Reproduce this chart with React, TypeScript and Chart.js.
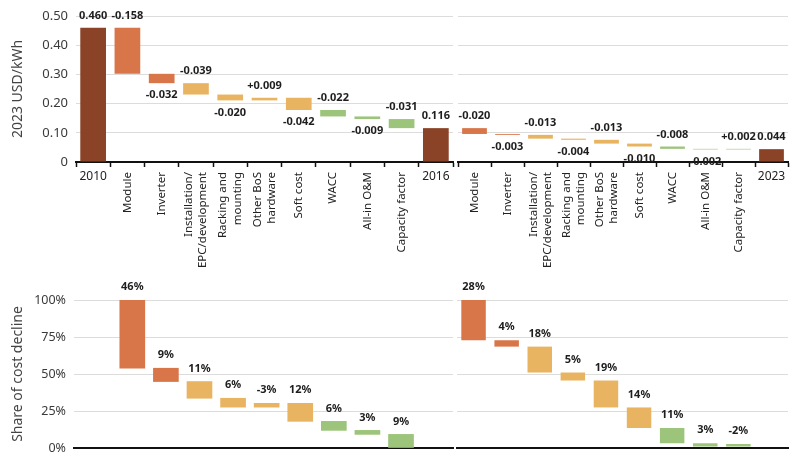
import React, { useEffect, useRef } from 'react';
import { Chart, registerables } from 'chart.js';

Chart.register(...registerables);

// ---------------- data ----------------
const drivers = [
  'Module',
  'Inverter',
  'Installation/\nEPC/development',
  'Racking and\nmounting',
  'Other BoS\nhardware',
  'Soft cost',
  'WACC',
  'All-in O&M',
  'Capacity factor',
];
const startYear = '2010';
const midYear = '2016';
const endYear = '2023';

const lcoe2010 = 0.46;
const lcoe2016 = 0.116;
const lcoe2023 = 0.044;
const change2010to2016 = [-0.158, -0.032, -0.039, -0.02, 0.009, -0.042, -0.022, -0.009, -0.031];
const change2016to2023 = [-0.02, -0.003, -0.013, -0.004, -0.013, -0.01, -0.008, -0.002, 0.002];

const usdTicks = [0, 0.1, 0.2, 0.3, 0.4, 0.5];
const usdTickLabels = ['0', '0.10', '0.20', '0.30', '0.40', '0.50'];
const shareTicks = [0, 25, 50, 75, 100];
const shareTickLabels = ['0%', '25%', '50%', '75%', '100%'];

// share of cost decline: [from, to] in %
const shareBars2010to2016: [number, number][] = [
  [100, 53.9], [53.9, 44.9], [44.9, 33.6], [33.6, 27.6], [27.6, 30.2],
  [30.2, 18.0], [18.0, 11.9], [11.9, 9.2], [9.2, 0],
];
const shareLabels2010to2016 = ['46%', '9%', '11%', '6%', '-3%', '12%', '6%', '3%', '9%'];
const shareBars2016to2023: [number, number][] = [
  [100, 72.8], [72.8, 68.5], [68.5, 51.0], [51.0, 45.6], [45.6, 27.4],
  [27.4, 13.5], [13.5, 3.2], [3.2, 1.0], [1.0, 2.7],
];
const shareLabels2016to2023 = ['28%', '4%', '18%', '5%', '19%', '14%', '11%', '3%', '-2%'];
const shareDriverPositions = [1, 2, 3, 4, 5, 6, 7, 8, 9];

// ---------------- style ----------------
const FONT = "'Noto Sans', 'DejaVu Sans', sans-serif";
Chart.defaults.font.family = FONT;
const C_TOTAL = '#8B4328';
const C_EQUIP = '#D8764A';
const C_BOS = '#E9B462';
const C_FIN = '#9CC47A';
const GRID = '#dcdcdc';
const AXIS = '#111111';
const driverColor = (i: number) => (i < 2 ? C_EQUIP : i < 6 ? C_BOS : C_FIN);

type Place = 'above' | 'below';

function waterfall(start: number, changes: number[], end: number, includeStart: boolean) {
  const bars: [number, number][] = [];
  const labels: string[] = [];
  const colors: string[] = [];
  const place: Place[] = [];
  if (includeStart) {
    bars.push([0, start]);
    labels.push(start.toFixed(3));
    colors.push(C_TOTAL);
    place.push('above');
  }
  let level = start;
  changes.forEach((d, i) => {
    const next = level + d;
    bars.push([next, level]);
    labels.push((d > 0 ? '+' : '') + d.toFixed(3));
    colors.push(driverColor(i));
    place.push(i % 2 === 0 ? 'above' : 'below');
    level = next;
  });
  bars.push([0, end]);
  labels.push(end.toFixed(3));
  colors.push(C_TOTAL);
  place.push('above');
  return { bars, labels, colors, place };
}

function barLabelPlugin(texts: string[], place: Place[], font: string, gap: number) {
  return {
    id: 'barLabels',
    afterDatasetsDraw(chart: any) {
      const meta = chart.getDatasetMeta(0);
      const ctx = chart.ctx;
      ctx.save();
      ctx.font = font;
      ctx.fillStyle = '#1e1e1e';
      ctx.textAlign = 'center';
      ctx.textBaseline = 'middle';
      meta.data.forEach((el: any, i: number) => {
        if (!texts[i]) return;
        const top = Math.min(el.y, el.base);
        const bottom = Math.max(el.y, el.base);
        const y = place[i] === 'below' ? bottom + gap : top - gap;
        ctx.fillText(texts[i], el.x, y);
      });
      ctx.restore();
    },
  };
}

function categoryLabelPlugin(labels: string[], years: string[]) {
  return {
    id: 'catLabels',
    afterDraw(chart: any) {
      const xs = chart.scales.x;
      const ctx = chart.ctx;
      const axisY = xs.top;
      ctx.save();
      ctx.fillStyle = '#222222';
      labels.forEach((lab, i) => {
        const x = xs.getPixelForValue(i);
        if (years.includes(lab)) {
          ctx.font = `12px ${FONT}`;
          ctx.textAlign = 'center';
          ctx.textBaseline = 'middle';
          ctx.fillText(lab, x, axisY + 15);
          return;
        }
        const lines = lab.split('\n');
        ctx.font = `11.5px ${FONT}`;
        lines.forEach((line, j) => {
          const cx = x + (j - (lines.length - 1) / 2) * 14.5;
          ctx.save();
          ctx.translate(cx, axisY + 10);
          ctx.rotate(-Math.PI / 2);
          ctx.textAlign = 'right';
          ctx.textBaseline = 'middle';
          ctx.fillText(line, 0, 0);
          ctx.restore();
        });
      });
      ctx.restore();
    },
  };
}

const zeroHidden = (color: string) => (c: any) => (c.tick && c.tick.value === 0 ? 'rgba(0,0,0,0)' : color);

function yScale(ticks: number[], tickLabels: string[], min: number, max: number, title: string | null, width: number, tickSize: number) {
  return {
    min,
    max,
    afterBuildTicks: (s: any) => {
      s.ticks = ticks.map((v) => ({ value: v }));
    },
    ticks: {
      display: title !== null,
      callback: (v: any) => tickLabels[ticks.indexOf(v)] ?? '',
      font: { size: tickSize, family: FONT },
      color: '#3a3a3a',
      padding: 8,
    },
    grid: { color: zeroHidden(GRID), drawTicks: false, lineWidth: 1 },
    border: { display: false },
    title: {
      display: title !== null,
      text: title ?? '',
      font: { size: 14, family: FONT },
      color: '#444444',
      padding: { top: 10, bottom: 0 },
    },
    afterFit: (s: any) => {
      s.width = width;
    },
  };
}

const baseOptions = (padding: any) => ({
  animation: false as const,
  responsive: false,
  maintainAspectRatio: false,
  layout: { padding },
  plugins: { legend: { display: false }, tooltip: { enabled: false } },
});

export default function App() {
  const tl = useRef<HTMLCanvasElement>(null);
  const tr = useRef<HTMLCanvasElement>(null);
  const bl = useRef<HTMLCanvasElement>(null);
  const br = useRef<HTMLCanvasElement>(null);

  useEffect(() => {
    const charts: Chart[] = [];
    const leftCats = [startYear, ...drivers, midYear];
    const rightCats = [...drivers, endYear];
    const w1 = waterfall(lcoe2010, change2010to2016, lcoe2016, true);
    const w2 = waterfall(lcoe2016, change2016to2023, lcoe2023, false);

    const topX = {
      type: 'category' as const,
      grid: { drawOnChartArea: false, drawTicks: true, tickLength: 5, tickColor: AXIS, tickWidth: 1.5 },
      border: { color: AXIS, width: 2 },
      ticks: { display: false },
      afterFit: (s: any) => {
        s.height = 120;
      },
    };

    charts.push(
      new Chart(tl.current!, {
        type: 'bar',
        data: {
          labels: leftCats,
          datasets: [{ data: w1.bars as any, backgroundColor: w1.colors, barPercentage: 0.75, categoryPercentage: 1, borderWidth: 0 }],
        },
        options: {
          ...baseOptions({ top: 16, right: 2, left: 0, bottom: 0 }),
          scales: { x: topX, y: yScale(usdTicks, usdTickLabels, 0, 0.5, '2023 USD/kWh', 76, 13) },
        } as any,
        plugins: [barLabelPlugin(w1.labels, w1.place, `bold 11px ${FONT}`, 12), categoryLabelPlugin(leftCats, [startYear, midYear])],
      })
    );

    charts.push(
      new Chart(tr.current!, {
        type: 'bar',
        data: {
          labels: rightCats,
          datasets: [{ data: w2.bars as any, backgroundColor: w2.colors, barPercentage: 0.75, categoryPercentage: 1, borderWidth: 0 }],
        },
        options: {
          ...baseOptions({ top: 16, right: 12, left: 3, bottom: 0 }),
          scales: { x: topX, y: yScale(usdTicks, usdTickLabels, 0, 0.5, null, 0, 13) },
        } as any,
        plugins: [barLabelPlugin(w2.labels, w2.place, `bold 11px ${FONT}`, 12), categoryLabelPlugin(rightCats, [endYear])],
      })
    );

    const shareColors = drivers.map((_, i) => driverColor(i));
    const allAbove: Place[] = drivers.map(() => 'above');

    charts.push(
      new Chart(bl.current!, {
        type: 'bar',
        data: {
          datasets: [
            {
              data: shareBars2010to2016.map((b, i) => ({ x: shareDriverPositions[i], y: b })) as any,
              backgroundColor: shareColors,
              barThickness: 25,
              borderWidth: 0,
            },
          ],
        },
        options: {
          ...baseOptions({ top: 30, right: 2, left: 0, bottom: 16 }),
          scales: {
            x: {
              type: 'linear',
              offset: false,
              min: -0.736,
              max: 10.548,
              grid: { display: false, offset: false },
              ticks: { display: false },
              border: { color: AXIS, width: 2 },
              afterFit: (s: any) => {
                s.height = 0;
              },
            },
            y: yScale(shareTicks, shareTickLabels, 0, 100, 'Share of cost decline', 74, 12.5),
          },
        } as any,
        plugins: [barLabelPlugin(shareLabels2010to2016, allAbove, `bold 11px ${FONT}`, 13)],
      })
    );

    charts.push(
      new Chart(br.current!, {
        type: 'bar',
        data: {
          labels: rightCats,
          datasets: [
            {
              data: [...shareBars2016to2023, null] as any,
              backgroundColor: shareColors,
              barPercentage: 0.74,
              categoryPercentage: 1,
              borderWidth: 0,
            },
          ],
        },
        options: {
          ...baseOptions({ top: 30, right: 12, left: 2, bottom: 16 }),
          scales: {
            x: {
              type: 'category',
              grid: { display: false },
              ticks: { display: false },
              border: { color: AXIS, width: 2 },
              afterFit: (s: any) => {
                s.height = 0;
              },
            },
            y: yScale(shareTicks, shareTickLabels, 0, 100, null, 0, 12.5),
          },
        } as any,
        plugins: [barLabelPlugin(shareLabels2016to2023, allAbove, `bold 11px ${FONT}`, 13)],
      })
    );

    return () => charts.forEach((c) => c.destroy());
  }, []);

  const abs = (left: number, top: number, w: number, h: number): React.CSSProperties => ({
    position: 'absolute',
    left,
    top,
    width: w,
    height: h,
  });

  return (
    <div style={{ position: 'absolute', left: 0, top: 0, width: 800, height: 464, background: '#fff' }}>
      <canvas ref={tl} width={455} height={282} style={abs(0, 0, 455, 282)} />
      <canvas ref={tr} width={345} height={282} style={abs(455, 0, 345, 282)} />
      <canvas ref={bl} width={455} height={194} style={abs(0, 270, 455, 194)} />
      <canvas ref={br} width={345} height={194} style={abs(455, 270, 345, 194)} />
    </div>
  );
}
